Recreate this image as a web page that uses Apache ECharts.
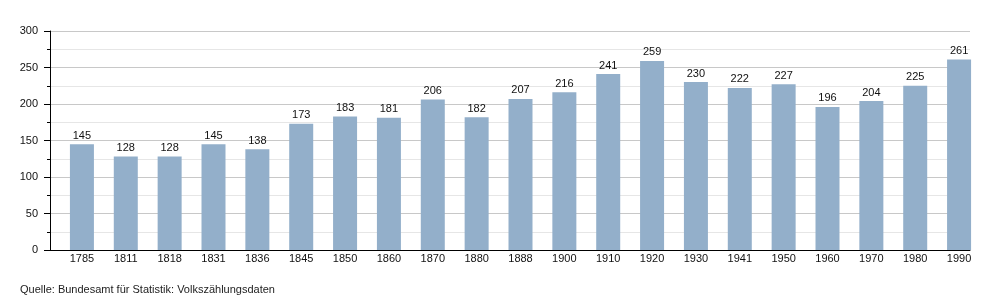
<!DOCTYPE html>
<html>
<head>
<meta charset="utf-8">
<script src="https://cdn.jsdelivr.net/npm/echarts@6/dist/echarts.min.js"></script>
<style>html,body{margin:0;padding:0;background:#fff}#c{width:1000px;height:300px}</style>
</head>
<body>
<div id="c"></div>
<script>
const categories = ['1785','1811','1818','1831','1836','1845','1850','1860','1870','1880','1888','1900','1910','1920','1930','1941','1950','1960','1970','1980','1990'];
const population = [145,128,128,145,138,173,183,181,206,182,207,216,241,259,230,222,227,196,204,225,261];
const sourceText = 'Quelle: Bundesamt für Statistik: Volkszählungsdaten';

const font = '"Liberation Sans", Arial, Helvetica, sans-serif';
const chart = echarts.init(document.getElementById('c'), null, {renderer: 'canvas'});
chart.setOption({
  animation: false,
  textStyle: {fontFamily: font},
  title: {
    text: sourceText, left: 20, top: 284, padding: 0,
    textStyle: {fontSize: 11, fontWeight: 'normal', color: '#222', fontFamily: font}
  },
  grid: [
    {left: 50, right: 30, top: 31, bottom: 50},
    {left: 60, right: 19, top: 31, bottom: 50}
  ],
  xAxis: [
    {gridIndex: 0, type: 'category', data: categories,
     axisLine: {show: true, lineStyle: {color: '#000', width: 1}},
     axisTick: {show: false}, axisLabel: {show: false}, splitLine: {show: false}},
    {gridIndex: 1, type: 'category', data: categories,
     axisLine: {show: false}, axisTick: {show: false},
     axisLabel: {fontSize: 11, color: '#111', margin: 3, fontFamily: font}}
  ],
  yAxis: [
    {gridIndex: 0, type: 'value', min: 0, max: 300, interval: 50,
     axisLine: {show: true, lineStyle: {color: '#000', width: 1}},
     axisTick: {show: true, length: 6, lineStyle: {color: '#000'}},
     minorTick: {show: true, splitNumber: 2, length: 3, lineStyle: {color: '#000'}},
     axisLabel: {fontSize: 11, color: '#111', margin: 12, fontFamily: font},
     splitLine: {show: true, lineStyle: {color: '#c8c8c8', width: 1}},
     minorSplitLine: {show: true, lineStyle: {color: '#e6e6e6', width: 1}}},
    {gridIndex: 1, type: 'value', min: 0, max: 300, interval: 50, show: false,
     splitLine: {show: false}}
  ],
  series: [{
    type: 'bar', xAxisIndex: 1, yAxisIndex: 1,
    data: population, barWidth: 24,
    itemStyle: {color: '#93afca'},
    label: {show: true, position: 'top', distance: 3, fontSize: 11, color: '#111', fontFamily: font}
  }]
});
</script>
</body>
</html>
